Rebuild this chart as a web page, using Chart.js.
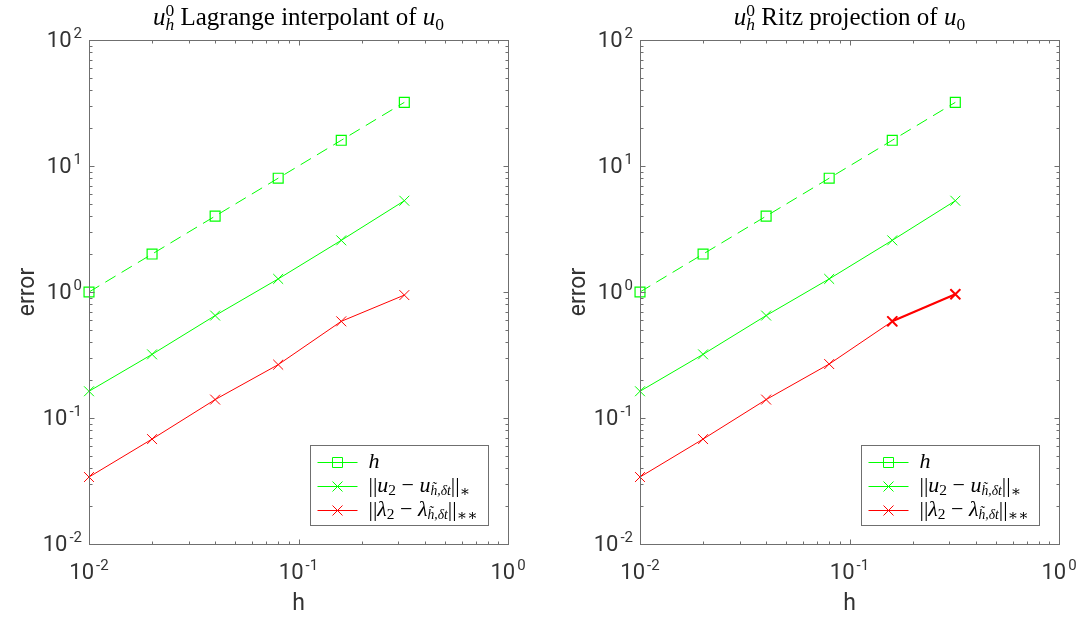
<!DOCTYPE html>
<html><head><meta charset="utf-8">
<script src="https://cdn.jsdelivr.net/npm/chart.js@4/dist/chart.umd.min.js"></script>
<style>
html,body{margin:0;padding:0;background:#fff;}
#wrap{position:relative;width:1080px;height:617px;overflow:hidden;}
canvas{position:absolute;top:0;}
</style></head><body>
<div id="wrap">
<canvas id="c1" width="540" height="617" style="left:0px"></canvas>
<canvas id="c2" width="540" height="617" style="left:540px"></canvas>
</div>
<script>
// ---- data ----
const hValues = [0.01, 0.02, 0.04, 0.08, 0.16, 0.32];
const hRef = [1, 2, 4, 8, 16, 32];
const uErrLagrange = [0.163, 0.32, 0.65, 1.27, 2.57, 5.3];
const lamErrLagrange = [0.034, 0.068, 0.14, 0.265, 0.585, 0.945];
const uErrRitz = [0.163, 0.32, 0.65, 1.27, 2.57, 5.3];
const lamErrRitz = [0.034, 0.068, 0.14, 0.268, 0.585, 0.96];
const xTickExps = [-2, -1, 0];
const yTickExps = [-2, -1, 0, 1, 2];
const xAxisLabel = 'h';
const yAxisLabel = 'error';
const titleLagrange = [{t:'u',i:1},{t:'0',s:0.7,dy:-9,na:1},{t:'h',i:1,s:0.7,dy:5},{t:' Lagrange interpolant of '},{t:'u',i:1},{t:'0',s:0.7,dy:5}];
const titleRitz = [{t:'u',i:1},{t:'0',s:0.7,dy:-9,na:1},{t:'h',i:1,s:0.7,dy:5},{t:' Ritz projection of '},{t:'u',i:1},{t:'0',s:0.7,dy:5}];
const legendH = [{t:'h',i:1}];
const legendU = [{t:'||'},{t:'u',i:1},{t:'2',s:0.7,dy:4},{t:' − '},{t:'u',i:1},{t:'h̃',i:1,s:0.62,dy:5},{t:',δt',i:1,s:0.62,dy:5},{t:'||'},{t:'∗',s:0.7,dy:5}];
const legendL = [{t:'||'},{t:'λ',i:1},{t:'2',s:0.7,dy:4},{t:' − '},{t:'λ',i:1},{t:'h̃',i:1,s:0.62,dy:5},{t:',δt',i:1,s:0.62,dy:5},{t:'||'},{t:'∗∗',s:0.7,dy:5}];

const GREEN = '#00ff00', RED = '#ff0000';
const legendColors = ['#00ff00', '#00ff00', '#ff0000'];
const legendStyles = ['rect', 'cross', 'cross'];
const AXC = '#6f6f6f', TXT = '#333333';
const SANS = 'Roboto, "Liberation Sans", sans-serif';
const SERIF = '"Liberation Serif", "DejaVu Serif", serif';

function runs(ctx, list, x, y, base, draw) {
  let cx = x;
  for (const r of list) {
    const size = base * (r.s || 1);
    ctx.font = (r.i ? 'italic ' : '') + size + 'px ' + SERIF;
    if (draw) ctx.fillText(r.t, cx, y + (r.dy || 0));
    const w = ctx.measureText(r.t).width;
    if (!r.na) cx += w;
  }
  return cx - x;
}

function marker(ctx, style, x, y, color) {
  ctx.setLineDash([]);
  ctx.strokeStyle = color; ctx.lineWidth = 1;
  ctx.beginPath();
  if (style === 'rect') { ctx.rect(x - 5, y - 5, 10, 10); }
  else { ctx.moveTo(x-5,y-5); ctx.lineTo(x+5,y+5); ctx.moveTo(x+5,y-5); ctx.lineTo(x-5,y+5); }
  ctx.stroke();
}

const framePlugin = {
  id: 'frame',
  afterDraw(chart, args, opts) {
    const ctx = chart.ctx, a = chart.chartArea;
    const xs = chart.scales.x, ys = chart.scales.y;
    ctx.save();
    ctx.globalAlpha = 1; ctx.globalCompositeOperation = 'source-over';
    ctx.strokeStyle = AXC; ctx.lineWidth = 1; ctx.setLineDash([]);
    const L = Math.round(a.left) + 0.5, R = Math.round(a.right) + 0.5, T = Math.round(a.top) + 0.5, B = Math.round(a.bottom) + 0.5;
    ctx.strokeRect(L, T, R - L, B - T);
    ctx.beginPath();
    for (let k = -2; k <= 0; k++) for (let m = 1; m <= 9; m++) {
      const v = m * Math.pow(10, k); if (v > 1.0001) continue;
      const px = Math.round(xs.getPixelForValue(v)) + 0.5, len = m === 1 ? 5 : 3;
      ctx.moveTo(px, B); ctx.lineTo(px, B - len); ctx.moveTo(px, T); ctx.lineTo(px, T + len);
    }
    for (let k = -2; k <= 2; k++) for (let m = 1; m <= 9; m++) {
      const v = m * Math.pow(10, k); if (v > 100.001) continue;
      const py = Math.round(ys.getPixelForValue(v)) + 0.5, len = m === 1 ? 5 : 3;
      ctx.moveTo(L, py); ctx.lineTo(L + len, py); ctx.moveTo(R, py); ctx.lineTo(R - len, py);
    }
    ctx.stroke();
    // tick labels
    ctx.fillStyle = TXT;
    const F1 = '22px ' + SANS, F2 = '15px ' + SANS;
    for (const e of yTickExps) {
      const py = ys.getPixelForValue(Math.pow(10, e));
      ctx.font = F1; const w1 = ctx.measureText('10').width;
      ctx.font = F2; const w2 = ctx.measureText(String(e)).width;
      const x0 = a.left - 7 - (w1 + 2 + w2);
      ctx.font = F1; ctx.textBaseline = 'middle'; ctx.textAlign = 'left';
      ctx.fillText('10', x0, py + 1);
      ctx.font = F2; ctx.textBaseline = 'alphabetic';
      ctx.fillText(String(e), x0 + w1 + 2, py - 2);
    }
    for (const e of xTickExps) {
      const px = xs.getPixelForValue(Math.pow(10, e));
      ctx.font = F1; const w1 = ctx.measureText('10').width;
      ctx.font = F2; const w2 = ctx.measureText(String(e)).width;
      const x0 = px - (w1 + 2 + w2) / 2;
      ctx.font = F1; ctx.textBaseline = 'middle'; ctx.textAlign = 'left';
      ctx.fillText('10', x0, a.bottom + 29);
      ctx.font = F2; ctx.textBaseline = 'alphabetic';
      ctx.fillText(String(e), x0 + w1 + 2, a.bottom + 26);
    }
    // axis labels
    ctx.font = '23px ' + SANS; ctx.textAlign = 'center'; ctx.textBaseline = 'middle';
    ctx.fillText(xAxisLabel, (a.left + a.right) / 2, a.bottom + 60);
    ctx.save(); ctx.translate(a.left - 61, (a.top + a.bottom) / 2); ctx.rotate(-Math.PI / 2);
    ctx.fillText(yAxisLabel, 0, 0); ctx.restore();
    // title
    ctx.textAlign = 'left'; ctx.textBaseline = 'alphabetic'; ctx.fillStyle = '#000';
    const tw = runs(ctx, opts.title, 0, 0, 25, false);
    runs(ctx, opts.title, (a.left + a.right) / 2 - tw / 2, 25, 25, true);
    // legend
    const lw = 178, lh = 80;
    const lx = Math.round(a.right - 20 - lw) + 0.5, ly = Math.round(a.bottom - 19 - lh) + 0.5;
    ctx.fillStyle = '#fff'; ctx.fillRect(lx, ly, lw, lh);
    ctx.strokeStyle = AXC; ctx.lineWidth = 1; ctx.strokeRect(lx, ly, lw, lh);
    const rowsY = [16, 40, 64];
    for (let i = 0; i < 3; i++) {
      const yy = Math.round(ly + rowsY[i]) + 0.5;
      const col = legendColors[i];
      ctx.strokeStyle = col; ctx.lineWidth = 1; ctx.setLineDash([]);
      ctx.beginPath(); ctx.moveTo(lx + 7, yy); ctx.lineTo(lx + 47, yy); ctx.stroke();
      marker(ctx, legendStyles[i], lx + 27, yy, col);
      ctx.fillStyle = '#000'; ctx.textBaseline = 'middle';
      runs(ctx, opts.legend[i], lx + 58, yy, 22, true);
    }
    ctx.restore();
  }
};

function makeChart(id, padL, padR, uErr, lamErr, boldTail, title) {
  const pts = (xa, ya) => xa.map((x, i) => ({x, y: ya[i]}));
  const datasets = [
    { label: 'h', data: pts(hValues, hRef), borderColor: GREEN, borderWidth: 1, borderDash: [12, 7],
      pointStyle: 'rect', pointRadius: 7, pointBorderColor: GREEN, pointBackgroundColor: 'rgba(0,0,0,0)', pointBorderWidth: 1.2, clip: false },
    { label: 'u', data: pts(hValues, uErr), borderColor: GREEN, borderWidth: 1,
      pointStyle: 'crossRot', pointRadius: 7, pointBorderColor: GREEN, pointBorderWidth: 1, clip: false },
    { label: 'lambda', data: pts(hValues, lamErr), borderColor: RED, borderWidth: 1,
      pointStyle: 'crossRot', pointRadius: 7, pointBorderColor: RED, pointBorderWidth: 1, clip: false }
  ];
  if (boldTail) {
    datasets.push({ label: 'lambda-tail', data: pts(hValues.slice(-2), lamErr.slice(-2)), borderColor: RED, borderWidth: 2.2,
      pointStyle: 'crossRot', pointRadius: 7, pointBorderColor: RED, pointBorderWidth: 2, clip: false });
  }
  return new Chart(document.getElementById(id), {
    type: 'line',
    data: { datasets },
    options: {
      responsive: false, animation: false, devicePixelRatio: 1,
      layout: { padding: { left: padL, right: padR, top: 40, bottom: 73 } },
      elements: { line: { tension: 0 } },
      scales: {
        x: { type: 'logarithmic', min: 0.01, max: 1, display: false },
        y: { type: 'logarithmic', min: 0.01, max: 100, display: false }
      },
      plugins: { legend: { display: false }, tooltip: { enabled: false },
        frame: { title: title, legend: [legendH, legendU, legendL] } }
    },
    plugins: [framePlugin]
  });
}
makeChart('c1', 89, 32, uErrLagrange, lamErrLagrange, false, titleLagrange);
makeChart('c2', 100, 21, uErrRitz, lamErrRitz, true, titleRitz);
</script>
</body></html>
